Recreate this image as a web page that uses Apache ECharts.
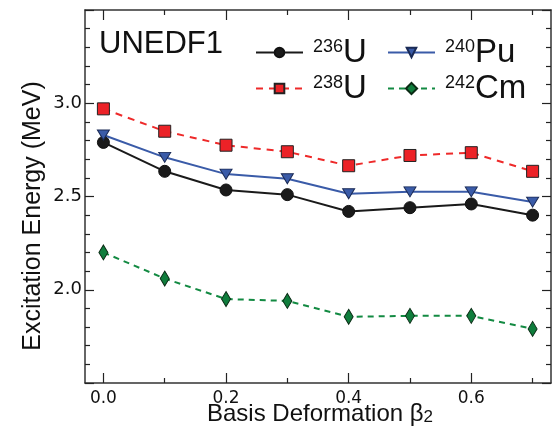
<!DOCTYPE html>
<html>
<head>
<meta charset="utf-8">
<script src="https://cdn.jsdelivr.net/npm/echarts@6/dist/echarts.min.js"></script>
<style>
html,body{margin:0;padding:0;background:#fff;}
#c{width:559px;height:431px;}
</style>
</head>
<body>
<div id="c"></div>
<script>
// ---- data ----
const betas = [0.0, 0.1, 0.2, 0.3, 0.4, 0.5, 0.6, 0.7];
const u236 = [2.79, 2.635, 2.535, 2.51, 2.42, 2.44, 2.46, 2.40];
const pu240 = [2.83, 2.71, 2.62, 2.595, 2.515, 2.525, 2.525, 2.47];
const u238 = [2.97, 2.85, 2.775, 2.74, 2.665, 2.72, 2.735, 2.635];
const cm242 = [2.20, 2.06, 1.95, 1.94, 1.855, 1.86, 1.86, 1.79];
const xMajorTicks = [0.0, 0.2, 0.4, 0.6];
const xMinorTicks = [0.1, 0.3, 0.5, 0.7];
const yTickLabels = [2.0, 2.5, 3.0];
const seriesNames = ['236U', '240Pu', '238U', '242Cm'];

function pairs(ys) { return betas.map((x, i) => [x, ys[i]]); }

const frame = { color: '#333', width: 1.5 };
const tickStyle = { color: '#222', width: 1.2 };

function xAx(pos, major, withLabels) {
  return {
    type: 'value', min: -0.03, max: 0.73, position: pos,
    axisLine: { show: major, onZero: false, lineStyle: frame },
    axisTick: { show: true, inside: true, length: major ? 10 : 5,
      customValues: major ? xMajorTicks : xMinorTicks, lineStyle: tickStyle },
    axisLabel: withLabels ? { show: true, customValues: xMajorTicks, margin: 7,
      formatter: v => Number(v).toFixed(1),
      fontFamily: 'DejaVu Sans', fontSize: 17, color: '#111' } : { show: false },
    splitLine: { show: false }
  };
}
function yAx(pos, withLabels) {
  return {
    type: 'value', min: 1.5, max: 3.5, interval: 0.5, position: pos,
    axisLine: { show: true, onZero: false, lineStyle: frame },
    axisTick: { show: true, inside: true, length: 9, lineStyle: tickStyle },
    minorTick: { show: true, splitNumber: 5, length: 5, lineStyle: tickStyle },
    axisLabel: withLabels ? { show: true, customValues: yTickLabels, margin: 3,
      formatter: v => Number(v).toFixed(1),
      fontFamily: 'DejaVu Sans', fontSize: 18, color: '#111' } : { show: false },
    splitLine: { show: false }, minorSplitLine: { show: false }
  };
}

const triDown = 'path://M0,0 L12,0 L6,10 Z';

function legendFmt(name) {
  const m = name.match(/^(\d+)(.*)$/);
  return '{s|' + m[1] + '}{b|' + m[2] + '}';
}
const richTxt = {
  s: { fontFamily: 'Liberation Sans', fontSize: 18, verticalAlign: 'top', color: '#111', lineHeight: 18, padding: [2, 0, 0, 0] },
  b: { fontFamily: 'Liberation Sans', fontSize: 33, color: '#111', lineHeight: 33 }
};
function leg(name, left, top, ih) {
  return {
    data: [name], left: left, top: top, padding: 0, itemWidth: 47, itemHeight: ih || 12,
    itemGap: 0, selectedMode: false, formatter: legendFmt,
    textStyle: { rich: richTxt, padding: [0, 0, 0, 5] }
  };
}

const chart = echarts.init(document.getElementById('c'), null, { renderer: 'canvas' });
chart.setOption({
  animation: false,
  backgroundColor: '#fff',
  grid: { left: 85, top: 10, right: 8, bottom: 48, containLabel: false },
  xAxis: [xAx('bottom', true, true), xAx('bottom', false, false), xAx('top', true, false), xAx('top', false, false)],
  yAxis: [yAx('left', true), yAx('right', false)],
  legend: [leg(seriesNames[0], 255, 36), leg(seriesNames[1], 387, 36), leg(seriesNames[2], 255, 72), leg(seriesNames[3], 387, 72, 14)],
  graphic: [
    { type: 'text', left: 99, top: 29, style: { text: 'UNEDF1', fontFamily: 'Liberation Sans', fontSize: 31, fill: '#111' } },
    { type: 'text', x: 33, y: 216, rotation: Math.PI / 2,
      style: { text: 'Excitation Energy (MeV)', fontFamily: 'Liberation Sans', fontSize: 25, fill: '#111', align: 'center', verticalAlign: 'middle' } },
    { type: 'text', x: 320, y: 414,
      style: { text: '{t|Basis Deformation β}{u|2}', fontFamily: 'Liberation Sans', align: 'center', verticalAlign: 'middle',
        rich: { t: { fontFamily: 'Liberation Sans', fontSize: 24, fill: '#111' }, u: { fontFamily: 'Liberation Sans', fontSize: 17, verticalAlign: 'bottom', fill: '#111' } } } }
  ],
  series: [
    { name: seriesNames[0], type: 'line', data: pairs(u236), symbol: 'circle', symbolSize: 12,
      lineStyle: { color: '#1a1a1a', width: 2 }, itemStyle: { color: '#1a1a1a', borderColor: '#111', borderWidth: 1 }, z: 3 },
    { name: seriesNames[1], type: 'line', data: pairs(pu240), symbol: triDown, symbolSize: [12, 10],
      lineStyle: { color: '#3a5ba8', width: 2 }, itemStyle: { color: '#3a5ba8', borderColor: '#1a2a55', borderWidth: 1 }, z: 3 },
    { name: seriesNames[2], type: 'line', data: pairs(u238), symbol: 'rect', symbolSize: 12,
      lineStyle: { color: '#ee2a2a', width: 2, type: [7, 6] }, itemStyle: { color: '#ec2227', borderColor: '#222', borderWidth: 1 }, z: 3 },
    { name: seriesNames[3], type: 'line', data: pairs(cm242), symbol: 'diamond', symbolSize: [9, 15],
      lineStyle: { color: '#138a42', width: 2, type: [6, 5] }, itemStyle: { color: '#0f7d3c', borderColor: '#0a2a14', borderWidth: 1 }, z: 3 }
  ]
});
</script>
</body>
</html>
